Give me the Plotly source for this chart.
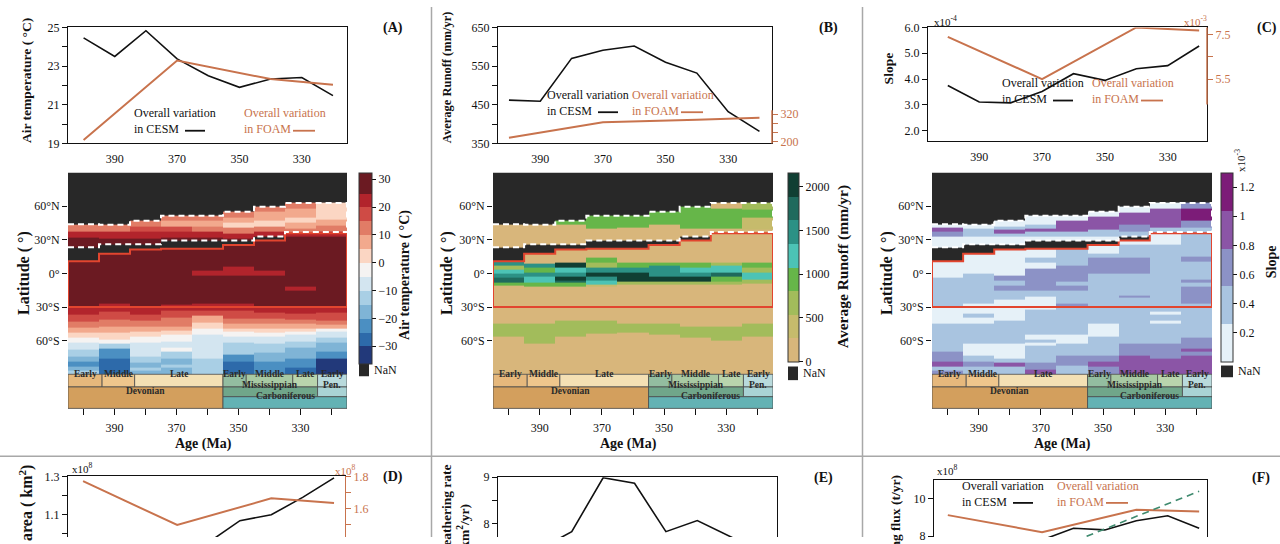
import plotly.graph_objects as go

W, H = 1280, 544
SERIF = "Liberation Serif"
INK = "#111111"
FOAM = "#c8734d"
NAN_GREY = "#282828"

# time slices (Ma): nine CESM runs, four FOAM runs
ages = [400, 390, 380, 370, 360, 350, 340, 330, 320]
foam_ages = [400, 370, 340, 320]

# (A) air temperature (deg C)
temp_cesm = [24.46, 23.50, 24.83, 23.37, 22.50, 21.90, 22.33, 22.41, 21.47]
temp_foam = [19.17, 23.29, 22.33, 22.03]
# (B) average runoff (mm/yr)
runoff_cesm = [462, 459, 570, 591, 602, 560, 532, 432, 381]
runoff_foam = [217, 285, 296, 304]
# (C) slope, CESM x1e-4, FOAM x1e-3
slope_cesm = [3.75, 3.11, 3.08, 3.52, 4.21, 3.95, 4.40, 4.52, 5.28]
slope_foam = [7.40, 5.50, 7.82, 7.68]
# (D) area (x1e8 km2)
area_cesm = [0.93, 0.91, 0.90, 0.93, 0.956, 1.069, 1.10, 1.19, 1.292]
area_foam = [1.773, 1.497, 1.665, 1.636]
# (E) weathering rate
rate_cesm = [7.30, 7.45, 7.82, 8.99, 8.87, 7.82, 8.06, 7.72, 7.40]
# (F) weathering flux (x1e8 t/yr)
flux_cesm = [7.40, 7.55, 7.65, 7.80, 8.43, 8.34, 8.83, 9.10, 8.43]
flux_foam = [9.13, 8.22, 9.42, 9.33]
flux_trend_ages = [370, 320]
flux_trend = [7.04, 10.41]

# zonal profiles per time slice: (top latitude, value) from north to south,
# each piece reaching down to the next one; None = no land (NaN)
temp_cols = [
    [(90, None), (44, 12), (37, 22), (32, 28), (23.5, None), (11, 28), (-30, 22), (-37, 17), (-43, 12), (-48, 7),
     (-53, 2), (-57, -2), (-62, -7), (-68, -12), (-74, -17), (-79, -22), (-83, -17), (-87, -12)],
    [(90, None), (43.5, 12), (37, 22), (31, 28), (26, None), (17.5, 28), (-27, 22), (-34, 17), (-41.5, 12), (-47, 7),
     (-53, 2), (-59, -2), (-63, -12), (-67, -22), (-76, -27)],
    [(90, None), (47, 12), (42, 17), (37, 22), (31, 28), (26, None), (21.5, 28), (-30, 22), (-37, 17), (-42, 12),
     (-47, 7), (-52, 2), (-56, -2), (-62, -7), (-74, -12), (-80, -17), (-84, -12), (-87, -17)],
    [(90, None), (51.5, 12), (47.5, 7), (42, 17), (37, 22), (32, 28), (29.5, None), (22, 28), (-28, 22), (-33.5, 17),
     (-39, 12), (-47, 7), (-51, 2), (-55, -2), (-61, -7), (-66, -2), (-70, -12), (-76, -17), (-81, -12), (-84, -17)],
    [(90, None), (51.5, 12), (47, 7), (42, 12), (37, 22), (32, 28), (29.5, None), (22, 28), (2.5, 22), (-1.5, 28),
     (-27, 22), (-33, 17), (-38, 7), (-44, 2), (-49, -2), (-55, -7), (-76, -12)],
    [(90, None), (55, 12), (50, 7), (45, 2), (41, 12), (36, 22), (31, 28), (29.5, None), (25.5, 28), (6.5, 22),
     (-1.5, 28), (-27, 22), (-33.5, 17), (-40, 12), (-45, 7), (-49, 2), (-52, -2), (-56, -7), (-62, -12), (-72, -22),
     (-79, -27)],
    [(90, None), (59.5, 12), (55, 7), (47, 2), (42, 12), (37, 22), (33, None), (29.5, 28), (2.5, 22), (-1.5, 28),
     (-30, 22), (-35, 17), (-40, 12), (-45, 7), (-49, 2), (-53, -2), (-56, -7), (-63, -12), (-71, -17), (-79, -22)],
    [(90, None), (63, 12), (58, 7), (50, 2), (45, 7), (40, 12), (36, 22), (32.5, 28), (-11.5, 22), (-15.5, 28),
     (-30, 22), (-36, 17), (-41, 12), (-45, 7), (-49, 2), (-52, -2), (-55, -7), (-61, -12), (-66, -17), (-76, -22),
     (-84, -27)],
    [(90, None), (63, 2), (48, 7), (43, 12), (37, 22), (33, 28), (-30, 22), (-35, 17), (-42, 12), (-46, 7),
     (-49, -2), (-52, -7), (-57, -12), (-62, -17), (-70, -22), (-76, -32)],
]

runoff_cols = [
    [(90, None), (44, 135), (23.5, None), (11, 1485), (7, 675), (3, 1215), (0, 1485), (-4, 1755), (-8, 945),
     (-11, 135), (-45, 675), (-56, 135)],
    [(90, None), (43.5, 135), (26, None), (17.5, 135), (8.5, 1485), (5, 945), (0.5, 1485), (-3, 1215), (-8, 945),
     (-11.5, 135), (-45, 675), (-63, 135)],
    [(90, None), (47, 945), (44, 135), (26, None), (21.5, 135), (10, 2025), (5, 1215), (0.5, 1485), (-3, 2025),
     (-6, 1755), (-8, 945), (-11.5, 135), (-42, 675), (-56, 135)],
    [(90, None), (51.5, 945), (40, 135), (29.5, None), (22, 135), (14, 945), (10, 675), (5, 1485), (0.5, 2025),
     (-3, 1485), (-6.5, 1215), (-10, 405), (-12, 135), (-42, 675), (-54, 135)],
    [(90, None), (51.5, 945), (41, 135), (29.5, None), (22, 135), (10, 945), (5, 1485), (0.5, 2025), (-7, 675),
     (-10, 135), (-45, 675), (-53, 135)],
    [(90, None), (55, 945), (43.5, 135), (29.5, None), (25.5, 135), (10, 945), (7, 1485), (-3, 2025), (-7, 675),
     (-10, 135), (-45, 675), (-55, 135)],
    [(90, None), (59.5, 945), (40, 135), (33, None), (29.5, 135), (10, 945), (5, 1215), (0.5, 1485), (-3, 2025),
     (-7, 675), (-10, 135), (-47, 675), (-57, 135)],
    [(90, None), (63, 135), (58, 945), (40, 135), (10, 675), (7, 1215), (0.5, 1755), (-3, 945), (-7, 675),
     (-10, 135), (-47, 675), (-60, 135)],
    [(90, None), (63, 675), (57, 945), (50, 405), (39, 135), (10, 945), (5, 675), (0.5, 1215), (-5.5, 675),
     (-9, 135), (-45, 675), (-56, 135)],
]

slope_cols = [
    [(90, None), (44, 0.13), (41, 0.91), (37, 0.65), (33, 0.13), (23.5, None), (11, 0.13), (-4, 0.39), (-30, 0.13),
     (-45, 0.39), (-70, 0.65), (-79, 0.91), (-83, 0.39), (-87, 0.65)],
    [(90, None), (43.5, 0.13), (40, 0.39), (33, 0.13), (26, None), (17.5, 0.13), (0, 0.39), (-27, 0.13), (-36, 0.39),
     (-39, 0.13), (-45, 0.39), (-63, 0.13), (-73, 0.39), (-79, 0.65), (-83, 0.39)],
    [(90, None), (47, 0.13), (42, 0.39), (39, 0.91), (36, 0.39), (33, 0.13), (26, None), (21.5, 0.13), (-2, 0.65),
     (-6.5, 0.39), (-11, 0.65), (-15, 0.39), (-23, 0.13), (-42, 0.39), (-63, 0.13), (-76, 0.39), (-80, 0.91),
     (-83, 0.39)],
    [(90, None), (51.5, 0.13), (44, 0.39), (40, 0.91), (37, 0.39), (33, 0.13), (29.5, None), (22, 0.13), (14, 0.39),
     (9.5, 0.13), (4, 0.65), (-15, 0.39), (-21, 0.13), (-32, 0.39), (-55, 0.13), (-59, 0.39), (-62, 0.13),
     (-64, 0.39), (-80, 0.65), (-86, 0.91)],
    [(90, None), (51.5, 0.13), (47, 0.91), (37, 0.39), (33, 0.13), (29.5, None), (22, 0.39), (7, 0.65), (-7, 0.39),
     (-11, 0.65), (-15, 0.39), (-27, 0.65), (-30, 0.39), (-55, 0.13), (-63, 0.39), (-73, 0.65), (-82, 0.39)],
    [(90, None), (55, 0.13), (50.5, 0.91), (39, 0.39), (33, 0.13), (29.5, None), (25.5, 0.13), (18, 0.39),
     (14, 0.65), (0, 0.39), (-44.5, 0.13), (-56, 0.39), (-73, 0.65), (-79, 0.91), (-83, 0.65)],
    [(90, None), (59.5, 0.13), (54, 0.91), (44, 0.65), (37, 0.39), (33, None), (29.5, 0.13), (26, 0.39), (14, 0.65),
     (0, 0.39), (-19.5, 0.65), (-22, 0.39), (-63, 0.65), (-73, 0.91)],
    [(90, None), (63, 0.13), (58, 0.91), (41, 0.39), (36, 0.13), (26, 0.39), (-34, 0.13), (-37, 0.39), (-42, 0.13),
     (-45, 0.39), (-63, 0.65), (-76, 0.91)],
    [(90, None), (63, 0.65), (58, 1.17), (47, 0.65), (41, 0.39), (15, 0.65), (11, 0.39), (-5.5, 0.65), (-8, 0.39),
     (-12, 0.65), (-27, 0.39), (-57, 0.65), (-67, 0.91), (-70, 0.65), (-73, 0.91)],
]

# coastline / basin outlines (latitude per time slice)
coast_north = [44, 43.5, 47, 51.5, 51.5, 55, 59.5, 63, 63]
coast_gap = [23.5, 26, 26, 29.5, 29.5, 29.5, 33, 37, 37]
basin_top = [11, 17.5, 21.5, 22, 22, 25.5, 29.5, 36, 36]
basin_bottom = -30

# colour classes
temp_edges = [-36.3, -30, -25, -20, -15, -10, -5, 0, 5, 10, 15, 20, 25, 32.4]
temp_colors = ["#22397a", "#2d6aaa", "#4b8fc2", "#7fb4d6", "#a9cfe5", "#d3e5f0", "#f5f3f2",
               "#fbd6c3", "#f2a98d", "#e17c66", "#cf4b45", "#b2242c", "#6b1a22"]
runoff_edges = [0, 270, 540, 810, 1080, 1350, 1620, 1890, 2160]
runoff_colors = ["#d8b67b", "#c6bb6c", "#a2bc5b", "#66b649", "#4cc3b5", "#2c9185", "#1f6a5d", "#103f33"]
slope_edges = [0, 0.26, 0.52, 0.78, 1.04, 1.3]
slope_colors = ["#e6f1f8", "#a9c4e0", "#8c92c6", "#8b55a6", "#7c1c78"]

# geological time scale
stage_names = ["Early", "Middle", "Late", "Early", "Middle", "Late", "Early"]
stage_from = [405, 394, 383.5, 355, 347.5, 332.5, 324.5]
stage_to = [394, 383.5, 355, 347.5, 332.5, 324.5, 315]
stage_colors = ["#e6b87c", "#efc68c", "#f4e0b4", "#93bda0", "#a8c9a3", "#b9d4ad", "#b9dadc"]
period_names = ["Devonian", "Mississippian", "Pen.", "Carboniferous"]
period_from = [405, 355, 324.5, 355]
period_to = [355, 324.5, 315, 315]
period_colors = ["#d39f5d", "#70a68a", "#a9d3d5", "#63b2b4"]

lat_labels = ["60°N", "30°N", "0°", "30°S", "60°S"]
age_labels = [390, 370, 350, 330]

col_edges = [a + 5 for a in ages] + [ages[-1] - 5]

fig = go.Figure()
axes = {}
notes = []
shapes = []


def xn(n):
    return "x" if n == 1 else f"x{n}"


def yn(n):
    return "y" if n == 1 else f"y{n}"


def font(size=12, color=INK):
    return dict(family=SERIF, size=size, color=color)


def px(x):
    return x / W


def py(y):
    return 1 - y / H


def note(text, x, y, size=12, color=INK, xanchor="center", yanchor="middle", angle=0, align="center"):
    notes.append(dict(text=text, x=px(x), y=py(y), xref="paper", yref="paper", showarrow=False,
                      xanchor=xanchor, yanchor=yanchor, textangle=angle, align=align,
                      font=font(size, color)))


def line_axes(nx, ny, xdom, ydom, xrange, yrange, yticks, ylabels, yminor=(), cut=False, box=True):
    xa = dict(domain=[px(xdom[0]), px(xdom[1])], range=xrange, anchor=yn(ny), showgrid=False,
              zeroline=False, showline=True, linecolor=INK, linewidth=1, tickfont=font())
    if cut:
        xa.update(side="top", mirror=False, showticklabels=False, ticks="")
    else:
        xa.update(mirror=True, tickvals=age_labels, ticks="", ticklabelstandoff=4)
    ya = dict(domain=[py(ydom[1]), py(ydom[0])], range=yrange, anchor=xn(nx), showgrid=False,
              zeroline=False, showline=True, linecolor=INK, linewidth=1, mirror=box,
              ticks="outside", ticklen=5, tickcolor=INK, tickvals=yticks, ticktext=ylabels,
              tickfont=font(),
              minor=dict(tickvals=list(yminor), ticks="outside", ticklen=5, tickcolor=INK))
    axes["xaxis" if nx == 1 else f"xaxis{nx}"] = xa
    axes["yaxis" if ny == 1 else f"yaxis{ny}"] = ya


def right_axis(ny, over, nx, yrange, yticks, ylabels, yminor=(), show_line=True):
    axes[f"yaxis{ny}"] = dict(overlaying=yn(over), side="right", anchor=xn(nx), range=yrange,
                              showgrid=False, zeroline=False, showline=show_line, linecolor=FOAM,
                              linewidth=1.2, ticks="outside", ticklen=5, tickcolor=FOAM,
                              tickvals=yticks, ticktext=ylabels, tickfont=font(12, FOAM),
                              minor=dict(tickvals=list(yminor), ticks="outside", ticklen=5, tickcolor=FOAM))


def series(nx, ny, x, y, color, width=1.6, dash=None):
    fig.add_trace(go.Scatter(x=x, y=y, mode="lines", line=dict(color=color, width=width, dash=dash),
                             xaxis=xn(nx), yaxis=yn(ny), showlegend=False, hoverinfo="skip"))


def legend(x, y, label, color):
    # text first, short line sample after it (as in the original)
    note(f"Overall variation<br>in {label}", x, y, 12, color, xanchor="left", yanchor="top", align="left")
    off = 53 if label == "CESM" else 51
    shapes.append(dict(type="line", xref="paper", yref="paper", x0=px(x + off), x1=px(x + 73),
                       y0=py(y + 27), y1=py(y + 27), line=dict(color=color, width=1.8)))


def grid(columns):
    edges = sorted({-90.0, 90.0} | {float(t) for col in columns for t, _ in col})
    z = []
    for lo, hi in zip(edges[:-1], edges[1:]):
        mid = (lo + hi) / 2
        row = []
        for col in columns:
            val = None
            for top, v in col:
                if mid < top:
                    val = v
            row.append(val)
        z.append(row)
    return edges, z


def stepped(edges, colors):
    lo, hi = edges[0], edges[-1]
    scale = []
    for a, b, c in zip(edges[:-1], edges[1:], colors):
        scale += [[(a - lo) / (hi - lo), c], [(b - lo) / (hi - lo), c]]
    return scale


def steps(vals):
    return col_edges[:-1] + [col_edges[-1]], list(vals) + [vals[-1]]


def heat_panel(nx, ny, xdom, columns, edges, colors, cbar_x, cbar_w, cbar_bottom, ticks, ticktext,
               nan_box):
    axes[f"xaxis{nx}"] = dict(domain=[px(xdom[0]), px(xdom[1])], range=[405, 315], anchor="free",
                              position=py(412), showgrid=False, zeroline=False, showline=False,
                              tickvals=age_labels, ticks="outside", ticklen=6, tickcolor=INK,
                              tickfont=font(), ticklabelstandoff=2,
                              minor=dict(tickvals=[a for a in ages if a not in age_labels],
                                         ticks="outside", ticklen=6, tickcolor=INK))
    axes[f"yaxis{ny}"] = dict(domain=[py(377), py(170)], range=[-90, 90], anchor=f"x{nx}",
                              showgrid=False, zeroline=False, showline=False,
                              tickvals=[60, 30, 0, -30, -60], ticktext=lat_labels, ticks="outside",
                              ticklen=5, tickcolor=INK, tickfont=font())
    shapes.append(dict(type="rect", xref=f"x{nx} domain", yref=f"y{ny} domain", x0=0, x1=1, y0=0, y1=1,
                       fillcolor=NAN_GREY, line=dict(width=0), layer="below"))
    lat_edges, z = grid(columns)
    fig.add_trace(go.Heatmap(
        x=ages, y=lat_edges, z=z, colorscale=stepped(edges, colors), zmin=edges[0], zmax=edges[-1],
        xaxis=f"x{nx}", yaxis=f"y{ny}", hoverinfo="skip",
        colorbar=dict(x=px(cbar_x), xanchor="left", xpad=0, y=py(170), yanchor="top", ypad=0,
                      len=cbar_bottom - 170, lenmode="pixels", thickness=cbar_w, thicknessmode="pixels",
                      outlinewidth=1, outlinecolor="#333333", tickvals=ticks, ticktext=ticktext,
                      ticks="outside", ticklen=4, tickcolor=INK, tickfont=font(12))))
    # basin outline (red) and coastline (white dashed)
    xs, ys = steps(basin_top)
    fig.add_trace(go.Scatter(x=[col_edges[0]] + xs + [col_edges[-1], col_edges[0]],
                             y=[basin_bottom] + ys + [basin_bottom, basin_bottom], mode="lines",
                             line=dict(color="#e2452f", width=2, shape="hv"), xaxis=f"x{nx}",
                             yaxis=f"y{ny}", showlegend=False, hoverinfo="skip"))
    xs, ys = steps(coast_north)
    fig.add_trace(go.Scatter(x=xs + [col_edges[-1]], y=ys + [coast_gap[-1]], mode="lines",
                             line=dict(color="white", width=2, dash="6px,4px", shape="hv"),
                             xaxis=f"x{nx}", yaxis=f"y{ny}", showlegend=False, hoverinfo="skip"))
    xs, ys = steps(coast_gap)
    fig.add_trace(go.Scatter(x=xs, y=ys, mode="lines",
                             line=dict(color="white", width=2, dash="6px,4px", shape="hv"),
                             xaxis=f"x{nx}", yaxis=f"y{ny}", showlegend=False, hoverinfo="skip"))
    # NaN key
    shapes.append(dict(type="rect", xref="paper", yref="paper", x0=px(nan_box[0]), x1=px(nan_box[1]),
                       y0=py(nan_box[3]), y1=py(nan_box[2]), fillcolor=NAN_GREY, line=dict(width=0)))
    note("NaN", nan_box[1] + 3, (nan_box[2] + nan_box[3]) / 2, 12, xanchor="left")
    # geological time scale under the map
    for name, a, b, c in zip(stage_names, stage_from, stage_to, stage_colors):
        shapes.append(dict(type="rect", xref=f"x{nx}", yref="paper", x0=a, x1=b, y0=py(390), y1=py(377),
                           fillcolor=c, line=dict(color="#4a4a4a", width=0.8)))
        notes.append(dict(text=f"<b>{name}</b>", x=(a + b) / 2, y=py(383.5), xref=f"x{nx}", yref="paper",
                          showarrow=False, font=font(9.5, "#2a2a2a")))
    rows = [(390, 412), (390, 400), (390, 400), (400, 412)]
    for name, a, b, c, (r0, r1) in zip(period_names, period_from, period_to, period_colors, rows):
        shapes.append(dict(type="rect", xref=f"x{nx}", yref="paper", x0=a, x1=b, y0=py(r1), y1=py(r0),
                           fillcolor=c, line=dict(color="#4a4a4a", width=0.8)))
        notes.append(dict(text=f"<b>{name}</b>", x=(a + b) / 2, y=py((r0 + r1) / 2), xref=f"x{nx}",
                          yref="paper", showarrow=False, font=font(9.5, "#2a2a2a")))


# ---------------- top row: line charts ----------------
line_axes(1, 1, (68, 347), (21, 140), [405, 315.5], [19, 25], [19, 21, 23, 25], ["19", "21", "23", "25"],
          [20, 22, 24])
series(1, 1, ages, temp_cesm, INK)
series(1, 1, foam_ages, temp_foam, FOAM, 2)
legend(132, 100, "CESM", INK)
legend(242, 100, "FOAM", FOAM)

line_axes(2, 2, (498, 772), (21, 140), [403.5, 316], [350, 650], [350, 450, 550, 650],
          ["350", "450", "550", "650"], [400, 500, 600])
right_axis(3, 2, 2, [192.8, 697.4], [200, 320], ["200", "320"], [240, 280], show_line=False)
shapes.append(dict(type="line", xref="paper", yref="paper", x0=px(772), x1=px(772), y0=py(140), y1=py(106),
                   line=dict(color=FOAM, width=1.5)))
series(2, 2, ages, runoff_cesm, INK)
series(2, 3, foam_ages, runoff_foam, FOAM, 2)
legend(545, 81, "CESM", INK)
legend(630, 81, "FOAM", FOAM)

line_axes(3, 4, (928, 1207), (21, 138), [406.3, 317.5], [1.585, 6.0], [2, 3, 4, 5, 6],
          ["2.0", "3.0", "4.0", "5.0", "6.0"])
right_axis(5, 4, 3, [2.70, 7.82], [5.5, 7.5], ["5.5", "7.5"], [6.5], show_line=False)
shapes.append(dict(type="line", xref="paper", yref="paper", x0=px(1207), x1=px(1207), y0=py(100), y1=py(21),
                   line=dict(color=FOAM, width=1.5)))
series(3, 4, ages, slope_cesm, INK)
series(3, 5, foam_ages, slope_foam, FOAM, 2)
legend(1000, 69, "CESM", INK)
legend(1090, 69, "FOAM", FOAM)
note("x10<sup>-4</sup>", 932, 14, 11, xanchor="left")
note("x10<sup>-3</sup>", 1209, 14, 11, FOAM, xanchor="right")

# ---------------- top row: zonal maps ----------------
heat_panel(7, 10, (68, 347), temp_cols, temp_edges, temp_colors, 359, 13, 361,
           [-30, -20, -10, 0, 10, 20, 30], None, (359, 369, 366, 379))
heat_panel(8, 11, (493, 773), runoff_cols, runoff_edges, runoff_colors, 788, 11, 359,
           [0, 500, 1000, 1500, 2000], None, (788, 798, 369, 383))
heat_panel(9, 12, (932, 1212), slope_cols, slope_edges, slope_colors, 1221, 12, 359,
           [0.2, 0.4, 0.6, 0.8, 1.0, 1.2], ["0.2", "0.4", "0.6", "0.8", "1", "1.2"], (1221, 1233, 368, 380))
note("x10<sup>-3</sup>", 1240, 158, 11, angle=-90)

# ---------------- bottom row (cut by the frame) ----------------
line_axes(4, 6, (68, 345), (481.7, 544), [404.8, 316.5], [0.984, 1.3], [1.1, 1.3], ["1.1", "1.3"],
          [1.0, 1.2], cut=True, box=False)
right_axis(7, 6, 4, [1.4215, 1.8037], [1.6, 1.8], ["1.6", "1.8"], [1.5, 1.7])
series(4, 6, ages, area_cesm, INK)
series(4, 7, foam_ages, area_foam, FOAM, 2)
note("x10<sup>8</sup>", 70, 473, 11, xanchor="left")
note("x10<sup>8</sup>", 333, 475, 11, FOAM, xanchor="left")

line_axes(5, 8, (498, 777), (482.7, 544), [403.5, 314.6], [7.704, 9.0], [8, 9], ["8", "9"], [8.5], cut=True)
series(5, 8, ages, rate_cesm, INK)

line_axes(6, 9, (934, 1207), (485.7, 544), [404.4, 317.5], [7.96, 11.0], [8, 10], ["8", "10"], cut=True)
series(6, 9, ages, flux_cesm, INK)
series(6, 9, foam_ages, flux_foam, FOAM, 2)
series(6, 9, flux_trend_ages, flux_trend, "#3e8a6e", 1.6, "7px,5px")
legend(960, 482, "CESM", INK)
legend(1055, 482, "FOAM", FOAM)
note("x10<sup>8</sup>", 935, 475, 11, xanchor="left")

# ---------------- titles ----------------
note("<b>Air temperature ( °C)</b>", 26, 76, 13.5, angle=-90)
note("<b>Average Runoff (mm/yr)</b>", 447, 72, 12.5, angle=-90)
note("<b>Slope</b>", 888, 63, 13.5, angle=-90)
for xc in (24, 447, 887):
    note("<b>Latitude ( °)</b>", xc, 273, 16, angle=-90)
for xc in (203, 628, 1062):
    note("<b>Age (Ma)</b>", xc, 449, 14)
note("<b>Air temperature ( °C)</b>", 405, 275, 14, angle=-90)
note("<b>Average Runoff (mm/yr)</b>", 843, 267, 15.5, angle=-90)
note("<b>Slope</b>", 1271, 262, 14, angle=-90)
note("<b>Land area ( km<sup>2</sup>)</b>", 26, 468, 16, angle=-90, yanchor="top")
note("<b>Silicate weathering rate<br>(t/km<sup>2</sup>/yr)</b>", 456, 468, 13.5, angle=-90, yanchor="top")
note("<b>Silicate weathering flux (t/yr)</b>", 895, 479, 13.5, angle=-90, yanchor="top")
for label, xc, yc in [("(A)", 393, 22), ("(B)", 828, 22), ("(C)", 1267, 22),
                      ("(D)", 393, 482), ("(E)", 823, 483), ("(F)", 1261, 483)]:
    note(f"<b>{label}</b>", xc, yc, 14)

# panel separators
for xs_ in (431.5, 862.5):
    shapes.append(dict(type="line", xref="paper", yref="paper", x0=px(xs_), x1=px(xs_), y0=0, y1=1,
                       line=dict(color="#a8a8a8", width=1.5)))
shapes.append(dict(type="line", xref="paper", yref="paper", x0=0, x1=1, y0=py(461), y1=py(461),
                   line=dict(color="#a8a8a8", width=1.5)))

fig.update_layout(width=W, height=H, margin=dict(l=0, r=0, t=0, b=0), paper_bgcolor="white",
                  plot_bgcolor="white", showlegend=False, annotations=notes, shapes=shapes,
                  font=font(), **axes)
# the page itself adds an 8px body margin; remove it so the figure fills the window
fig.write_html("out.html", config={"displayModeBar": False},
               post_script="document.body.style.margin='0';document.body.style.overflow='hidden';")
